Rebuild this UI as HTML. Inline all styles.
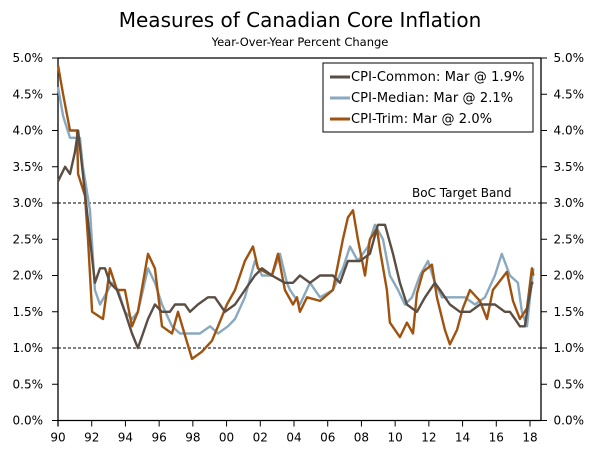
<!DOCTYPE html>
<html><head><meta charset="utf-8"><style>
body{margin:0;background:#fff;}
svg text{font-family:"DejaVu Sans","Liberation Sans",sans-serif;fill:#000;}
</style></head><body>
<svg id="chart" width="600" height="450" xmlns="http://www.w3.org/2000/svg">
<text x="300" y="27" font-size="20" text-anchor="middle">Measures of Canadian Core Inflation</text>
<text x="300" y="46" font-size="11.5" text-anchor="middle">Year-Over-Year Percent Change</text>
<g id="axes"></g>
<g id="series"></g>
<g>
<rect x="323" y="63" width="210" height="69" fill="#fff" stroke="#000" stroke-width="1"/>
<line x1="330" y1="77" x2="350" y2="77" stroke="#5a4e44" stroke-width="3"/>
<text x="351" y="81" font-size="13" letter-spacing="0.1">CPI-Common: Mar @ 1.9%</text>
<line x1="330" y1="98" x2="350" y2="98" stroke="#8aa9be" stroke-width="3"/>
<text x="351" y="102" font-size="13" letter-spacing="0.1">CPI-Median: Mar @ 2.1%</text>
<line x1="330" y1="119" x2="350" y2="119" stroke="#a0520f" stroke-width="3"/>
<text x="351" y="123" font-size="13" letter-spacing="0.1">CPI-Trim: Mar @ 2.0%</text>
</g>
<text x="412" y="197" font-size="12">BoC Target Band</text>
</svg>
<script>
const yTicks=[0,0.5,1,1.5,2,2.5,3,3.5,4,4.5,5];
const xTickYears=[1990,1992,1994,1996,1998,2000,2002,2004,2006,2008,2010,2012,2014,2016,2018];
const xTickLabels=["90","92","94","96","98","00","02","04","06","08","10","12","14","16","18"];
const bandLevels=[1,3];
const commonYears=[1990,1990.42,1990.71,1991.0,1991.19,1991.48,1991.9,1992.19,1992.49,1992.79,1993.08,1993.5,1993.97,1994.39,1994.74,1995.04,1995.34,1995.75,1996.17,1996.64,1996.94,1997.53,1997.83,1998.3,1998.9,1999.31,1999.9,2000.5,2001.09,2001.68,2002.1,2002.69,2003.46,2003.94,2004.35,2004.95,2005.54,2006.31,2006.73,2007.2,2007.91,2008.5,2008.98,2009.4,2009.87,2010.28,2010.7,2011.29,2011.77,2012.36,2012.66,2013.25,2013.84,2014.44,2015.03,2015.92,2016.51,2016.81,2017.11,2017.4,2017.7,2017.88,2018.11,2018.2];
const commonVals=[3.3,3.5,3.4,3.7,4.0,3.4,2.5,1.9,2.1,2.1,1.9,1.8,1.5,1.2,1.0,1.2,1.4,1.6,1.5,1.5,1.6,1.6,1.5,1.6,1.7,1.7,1.5,1.6,1.8,2.0,2.1,2.0,1.9,1.9,2.0,1.9,2.0,2.0,1.9,2.2,2.2,2.3,2.7,2.7,2.3,1.9,1.6,1.5,1.7,1.9,1.8,1.6,1.5,1.5,1.6,1.6,1.5,1.5,1.4,1.3,1.3,1.6,1.9,1.9];
const medianYears=[1990,1990.3,1990.71,1991.0,1991.3,1991.48,1991.9,1992.19,1992.49,1992.97,1993.2,1993.56,1993.97,1994.39,1994.74,1995.34,1995.75,1996.17,1996.76,1997.24,1997.95,1998.42,1999.02,1999.49,2000.08,2000.5,2001.09,2001.68,2002.1,2002.69,2003.17,2003.58,2003.76,2004.35,2004.95,2005.54,2006.31,2006.9,2007.32,2007.79,2008.39,2008.8,2009.28,2009.69,2010.17,2010.58,2011.0,2011.47,2011.95,2012.36,2012.78,2013.55,2014.14,2014.73,2015.33,2015.92,2016.33,2016.81,2017.28,2017.52,2017.82,2018.0,2018.2];
const medianVals=[4.6,4.2,3.9,3.9,3.9,3.5,2.9,1.8,1.6,1.8,1.9,1.8,1.5,1.4,1.5,2.1,1.9,1.6,1.3,1.2,1.2,1.2,1.3,1.2,1.3,1.4,1.7,2.2,2.0,2.0,2.3,1.9,1.8,1.6,1.9,1.7,1.8,2.1,2.4,2.2,2.4,2.7,2.5,2.0,1.8,1.6,1.7,2.0,2.2,1.9,1.7,1.7,1.7,1.6,1.7,2.0,2.3,2.0,1.9,1.5,1.3,1.7,2.1];
const trimYears=[1990,1990.3,1990.71,1991.13,1991.19,1991.6,1991.78,1992.02,1992.67,1993.08,1993.5,1993.97,1994.39,1994.74,1995.34,1995.75,1996.17,1996.76,1997.12,1997.95,1998.54,1999.13,1999.49,2000.02,2000.5,2001.09,2001.57,2001.86,2002.69,2003.05,2003.46,2003.94,2004.18,2004.35,2004.77,2005.54,2006.31,2006.9,2007.2,2007.5,2007.79,2008.21,2008.5,2008.92,2009.1,2009.51,2009.69,2010.28,2010.7,2011.06,2011.29,2011.65,2012.18,2012.48,2012.95,2013.25,2013.67,2014.02,2014.44,2015.03,2015.45,2015.8,2016.63,2016.99,2017.4,2017.82,2018.11,2018.2];
const trimVals=[4.9,4.5,4.0,4.0,3.4,3.1,2.5,1.5,1.4,2.1,1.8,1.8,1.3,1.5,2.3,2.1,1.3,1.2,1.5,0.85,0.95,1.1,1.3,1.6,1.8,2.2,2.4,2.1,2.0,2.3,1.8,1.6,1.7,1.5,1.7,1.65,1.8,2.5,2.8,2.9,2.5,2.0,2.5,2.65,2.35,1.8,1.35,1.15,1.35,1.2,1.75,2.05,2.15,1.7,1.25,1.05,1.25,1.55,1.8,1.65,1.4,1.8,2.05,1.65,1.4,1.55,2.1,2.0];

const X0=58,X1=541,Y0=420.5,Y1=58;
const xs=y=>X0+(y-1990)*(530-58)/28;
const ys=v=>Y0-(v/5)*(Y0-Y1);
const NS="http://www.w3.org/2000/svg";
const axes=document.getElementById('axes');
function mk(tag,attrs,parent){const e=document.createElementNS(NS,tag);for(const k in attrs)e.setAttribute(k,attrs[k]);parent.appendChild(e);return e;}
bandLevels.forEach(b=>{
 const l=mk('line',{x1:X0,x2:X1,y1:ys(b),y2:ys(b),stroke:'#000','stroke-width':1,'stroke-dasharray':'3,2'},axes);
 
 
});
const la=mk('line',{x1:X0,x2:X0,y1:Y1,y2:Y0+6,stroke:'#000','stroke-width':1.3},axes);


const ra=mk('line',{x1:X1,x2:X1,y1:Y1,y2:Y0,stroke:'#000','stroke-width':1.3},axes);


const ta=mk('line',{x1:X0,x2:X1,y1:Y1,y2:Y1,stroke:'#000','stroke-width':1.3},axes);


const xa=mk('line',{x1:X0,x2:X1,y1:Y0,y2:Y0,stroke:'#000','stroke-width':1.3},axes);


yTicks.forEach(v=>{
 const y=ys(v);
 mk('line',{x1:X0-6,x2:X0,y1:y,y2:y,stroke:'#000'},axes);
 mk('line',{x1:X1,x2:X1+6,y1:y,y2:y,stroke:'#000'},axes);
 const t1=mk('text',{x:X0-15,y:y+4,'font-size':12,'text-anchor':'end'},axes);
 t1.textContent=v.toFixed(1)+'%';
 
 
 const t2=mk('text',{x:X1+43,y:y+4,'font-size':12,'text-anchor':'end'},axes);
 t2.textContent=v.toFixed(1)+'%';
 
 
});
xTickYears.forEach((yr,i)=>{
 const x=xs(yr);
 mk('line',{x1:x,x2:x,y1:Y0,y2:Y0+6,stroke:'#000'},axes);
 const t=mk('text',{x:x,y:Y0+21,'font-size':12,'text-anchor':'middle'},axes);
 t.textContent=xTickLabels[i];
 
 
});
const sg=document.getElementById('series');
function draw(years,vals,color,name){
 const d=years.map((y,i)=>(i?'L':'M')+xs(y).toFixed(1)+','+ys(vals[i]).toFixed(1)).join('');
 const p=mk('path',{d:d,fill:'none',stroke:color,'stroke-width':2.4,'stroke-linejoin':'round'},sg);
 
 
}
draw(medianYears,medianVals,'#8aa9be','cpi-median-line');
draw(trimYears,trimVals,'#a0520f','cpi-trim-line');
draw(commonYears,commonVals,'#5a4e44','cpi-common-line');
</script>
</body></html>
